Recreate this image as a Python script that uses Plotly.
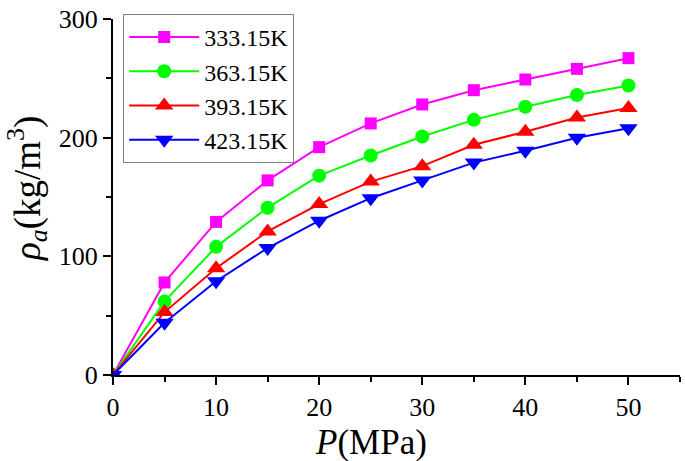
import plotly.graph_objects as go

pressure = [0, 5, 10, 15, 20, 25, 30, 35, 40, 45, 50]
rho_333 = [0, 78, 129, 164, 192, 212, 228, 240, 249, 258, 267]
rho_363 = [0, 62, 108, 141, 168, 185, 201, 215, 226, 236, 244]
rho_393 = [0, 53, 90, 121, 144, 163, 176, 194, 205, 217, 225]
rho_423 = [0, 44, 79, 107, 130, 149, 164, 179, 189, 200, 208]

series = [
    ("333.15K", rho_333, "#FF00FF", "square", 12),
    ("363.15K", rho_363, "#00FF00", "circle", 14),
    ("393.15K", rho_393, "#FF0000", "triangle-up", 16),
    ("423.15K", rho_423, "#0000FF", "triangle-down", 16),
]

FONT = "Liberation Serif, Times New Roman, serif"

fig = go.Figure()
for name, vals, color, sym, sz in series:
    fig.add_trace(go.Scatter(
        x=pressure, y=vals, name=name, mode="lines+markers",
        line=dict(color=color, width=2),
        marker=dict(symbol=sym, size=sz, color=color, line=dict(width=0)),
    ))

axis_common = dict(
    showline=True, linecolor="black", linewidth=2,
    ticks="outside", ticklen=8, tickwidth=2, tickcolor="black",
    showgrid=False, zeroline=False, mirror=False,
    ticklabeloverflow="allow",
    tickfont=dict(family=FONT, size=26, color="black"),
)

fig.update_xaxes(range=[0, 55], tickvals=[0, 10, 20, 30, 40, 50],
                 minor=dict(ticks="outside", ticklen=5, tickwidth=2, tickcolor="black", dtick=5, showgrid=False),
                 **axis_common)
fig.update_yaxes(range=[0, 300], tickvals=[0, 100, 200, 300],
                 minor=dict(ticks="outside", ticklen=5, tickwidth=2, tickcolor="black", dtick=50, showgrid=False),
                 **axis_common)

fig.add_annotation(text="<i>P</i>(MPa)", xref="x", x=25, yref="paper", y=0,
                   xanchor="center", yanchor="middle", yshift=-67, showarrow=False,
                   font=dict(family=FONT, size=35, color="black"))
fig.add_annotation(text="<i>ρ</i><sub><i>a</i></sub>(kg/m<sup>3</sup>)", xref="paper", x=0,
                   xanchor="center", yanchor="middle",
                   xshift=-86, yref="paper", y=0.5, yshift=8, textangle=-90,
                   showarrow=False, font=dict(family=FONT, size=37, color="black"))

fig.update_layout(
    width=685, height=461,
    margin=dict(l=113, r=5, t=15, b=86),
    plot_bgcolor="white", paper_bgcolor="white",
    showlegend=True,
    legend=dict(x=0.018, y=1.014, xanchor="left", yanchor="top",
                bgcolor="white", bordercolor="#808080", borderwidth=1,
                font=dict(family=FONT, size=24, color="black"),
                tracegroupgap=0, itemwidth=70),
)

fig.write_html("out.html", config={"displayModeBar": False},
               post_script="document.body.style.margin='0';")
